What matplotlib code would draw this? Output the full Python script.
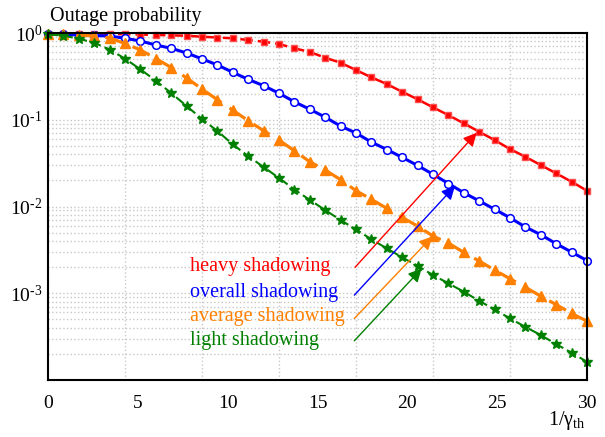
import numpy as np
import matplotlib
matplotlib.use('Agg')
import matplotlib.pyplot as plt

plt.rcParams['font.family'] = ['Liberation Serif', 'DejaVu Serif']
plt.rcParams['mathtext.fontset'] = 'custom'
plt.rcParams['mathtext.rm'] = 'Liberation Serif'
plt.rcParams['mathtext.it'] = 'Liberation Serif:italic'

# 36 evaluation points between 0 and 30
inv_gamma = np.linspace(0, 30, 36)

heavy = [0.98, 0.98, 0.98, 0.98, 0.97, 0.97, 0.96, 0.95, 0.94, 0.93,
         0.906, 0.887, 0.869, 0.830, 0.794, 0.747, 0.666, 0.604, 0.519, 0.454,
         0.374, 0.308, 0.258, 0.210, 0.172, 0.139, 0.113, 0.0909, 0.0727, 0.0583,
         0.0459, 0.0374, 0.0300, 0.0241, 0.0193, 0.0152]
overall = [0.974, 0.961, 0.948, 0.936, 0.923, 0.869, 0.809, 0.727, 0.666, 0.588,
           0.503, 0.428, 0.352, 0.292, 0.247, 0.202, 0.161, 0.132, 0.107, 0.0845,
           0.0703, 0.0552, 0.0454, 0.0368, 0.0297, 0.0235, 0.0184, 0.0144, 0.0116, 0.00929,
           0.00741, 0.00580, 0.00473, 0.00372, 0.00298, 0.00238]
average = [0.974, 0.961, 0.948, 0.923, 0.876, 0.757, 0.637, 0.508, 0.400, 0.303,
           0.226, 0.170, 0.129, 0.0974, 0.0747, 0.0583, 0.0438, 0.0328, 0.0263, 0.0204,
           0.0152, 0.0121, 0.00951, 0.00749, 0.00594, 0.00456, 0.00378, 0.00296, 0.00235, 0.00185,
           0.00147, 0.00117, 0.000926, 0.000739, 0.000585, 0.000477]
light = [0.966, 0.931, 0.860, 0.771, 0.645, 0.506, 0.381, 0.282, 0.203, 0.144,
         0.102, 0.0741, 0.0520, 0.0381, 0.0285, 0.0213, 0.0157, 0.0119, 0.00909, 0.00697,
         0.00544, 0.00418, 0.00329, 0.00259, 0.00207, 0.00162, 0.00130, 0.00104, 0.000817, 0.000650,
         0.000512, 0.000409, 0.000329, 0.000259, 0.000206, 0.000162]

labels = ['heavy shadowing', 'overall shadowing', 'average shadowing', 'light shadowing']
colors = ['#ff0000', '#0000ff', '#ff8000', '#008000']
# arrow tail / head in data coords
arrow_tail = [(17.09, 0.00199), (17.05, 0.000951), (17.05, 0.000512), (17.05, 0.000283)]
arrow_head = [(23.86, 0.0708), (22.65, 0.0172), (21.4, 0.00453), (20.8, 0.00193)]

fig = plt.figure(figsize=(6.05, 4.37), dpi=100)
ax = fig.add_axes([48/605, 1 - 380/437, 539/605, 347/437])

# grid: horizontal on log scale, vertical every 30/7
ax.set_yscale('log')
ax.set_ylim(1e-4, 1)
ax.set_xlim(0, 30)
ax.grid(True, which='both', axis='y', color='#c8c8c8', ls=':', lw=1)
for k in range(1, 7):
    ax.axvline(k * 30 / 7, color='#c8c8c8', ls=':', lw=1, zorder=0)

ax.plot(inv_gamma, heavy, '--s', color=colors[0], lw=1.8, ms=5, mfc=colors[0], mec='#ff5050',
        dashes=(5, 2), clip_on=False)
ax.plot(inv_gamma, overall, '-o', color=colors[1], lw=2.2, ms=5.5, mfc='white', mec=colors[1],
        mew=1.1, clip_on=False)
ax.plot(inv_gamma, average, '--^', color=colors[2], lw=2.3, ms=6.5, dashes=(6, 3), clip_on=False)
ax.plot(inv_gamma, light, '--*', color=colors[3], lw=1.5, ms=7, dashes=(5, 2), clip_on=False)

for lab, c, tail, head in zip(labels, colors, arrow_tail, arrow_head):
    ax.annotate('', xy=head, xytext=tail,
                arrowprops=dict(arrowstyle='-|>', color=c, lw=1, mutation_scale=20,
                                shrinkA=0, shrinkB=0))

text_y = [267, 293, 317, 340]
for lab, c, ty in zip(labels, colors, text_y):
    fig.text(190/605, 1 - ty/437, lab, color=c, fontsize=14.5, ha='left', va='center')

ax.set_xticks(range(0, 31, 5))
ax.set_yticks([1e-3, 1e-2, 1e-1, 1])
ax.set_yticklabels(['10$^{\\text{-3}}$', '10$^{\\text{-2}}$', '10$^{\\text{-1}}$', '10$^{0}$'])
ax.yaxis.set_minor_formatter(matplotlib.ticker.NullFormatter())
ax.tick_params(which='both', length=0, labelsize=14)
ax.tick_params(axis='x', pad=11)
ax.tick_params(axis='y', pad=4)
for s in ax.spines.values():
    s.set_linewidth(1.5)

fig.text(50/605, 1 - 16/437, 'Outage probability', fontsize=14.5, ha='left', va='center')
fig.text(548/605, 1 - 420/437, '1/γ$_{\\rm th}$', fontsize=14.5, ha='left', va='center')

fig.savefig('out.png', dpi=100)
